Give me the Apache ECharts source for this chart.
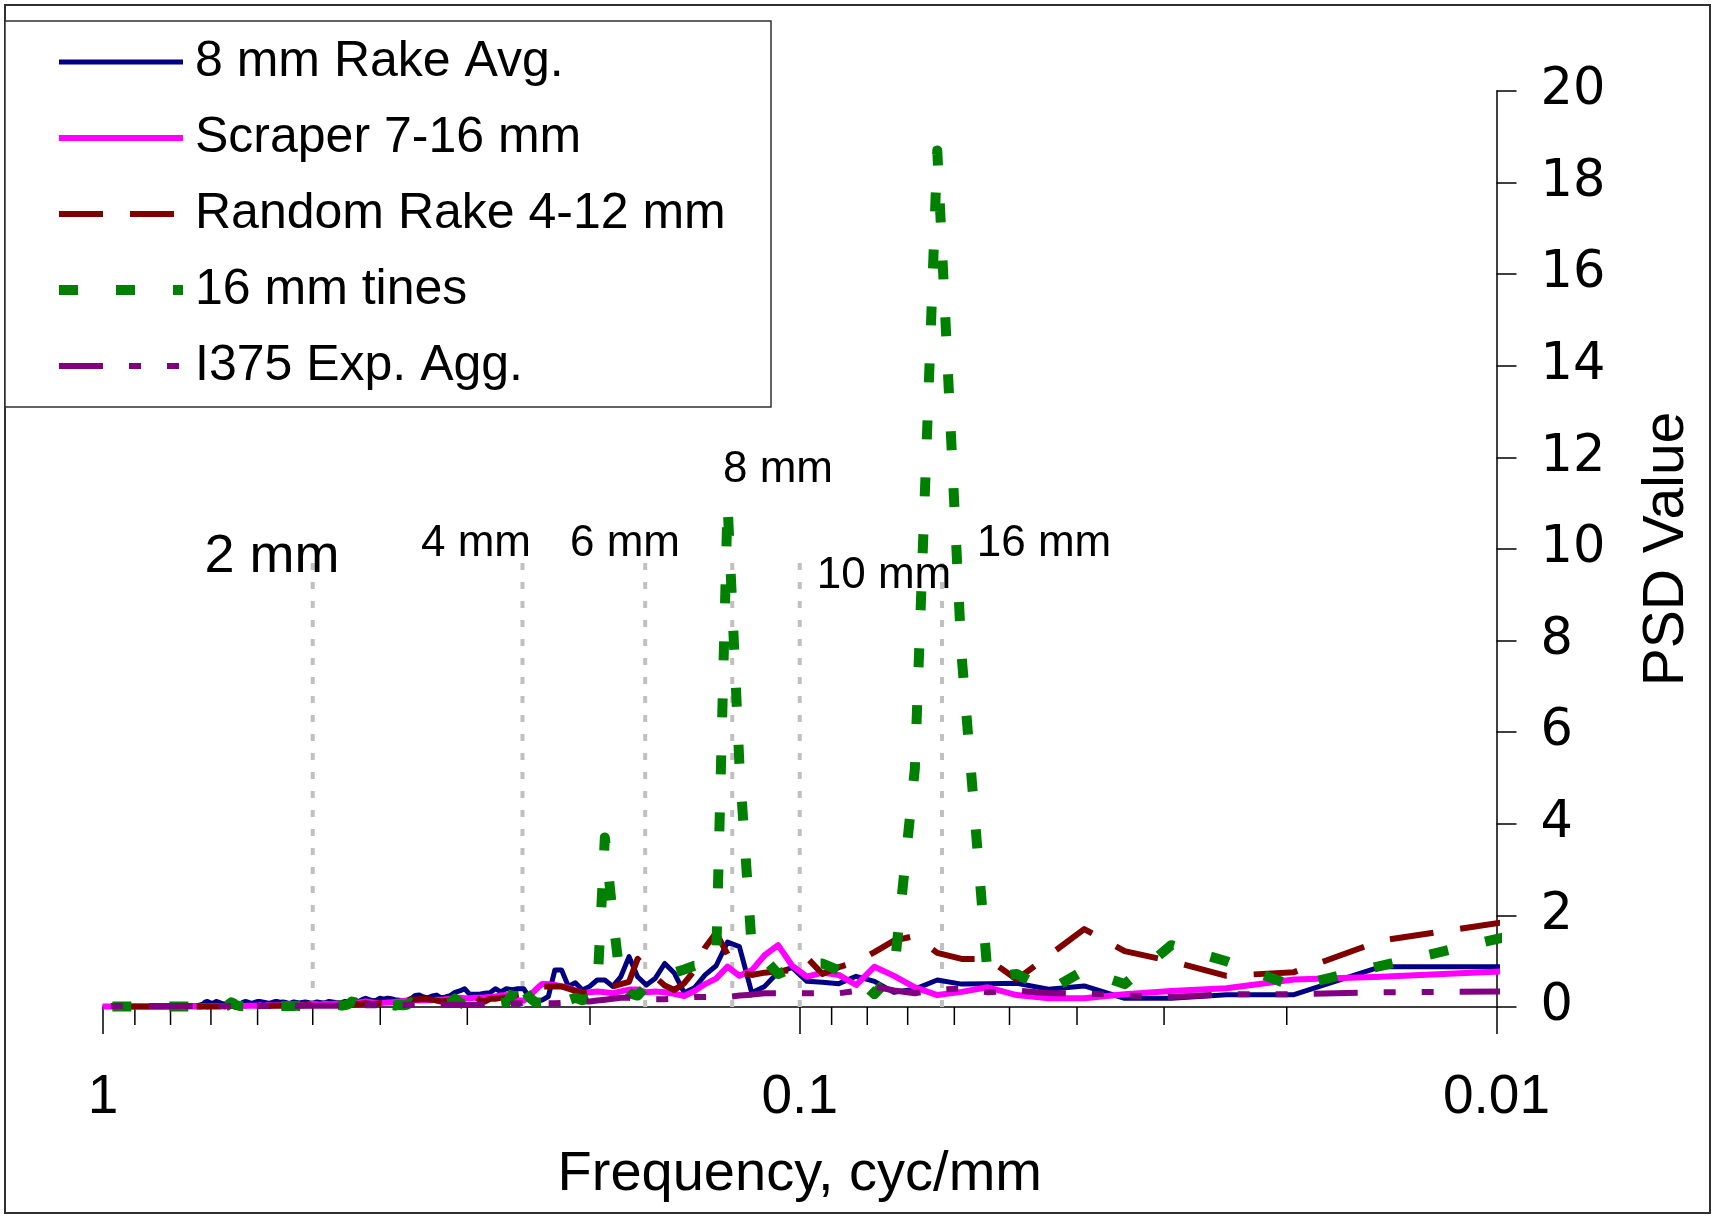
<!DOCTYPE html>
<html>
<head>
<meta charset="utf-8">
<title>PSD Value vs Frequency</title>
<script src="https://cdn.jsdelivr.net/npm/echarts@6/dist/echarts.min.js"></script>
<style>
  html, body { margin: 0; padding: 0; background: #ffffff; }
  #chart { width: 1714px; height: 1218px; }
</style>
</head>
<body>
<div id="chart"></div>
<script>
// Spectrum bins: frequency of bin k is k / profileLength (cycles per mm).
const profileLength = 204.8; // mm
const firstBin = 2;

const seriesNames = ['8 mm Rake Avg.', 'Scraper 7-16 mm', 'Random Rake 4-12 mm', '16 mm tines', 'I375 Exp. Agg.'];

// PSD values, one per bin, starting at bin 2
const rakeAvg8mm = [
  0.88,0.88,0.27,0.27,0.19,0.19,0.46,0.39,0.52,0.51,
  0.50,0.59,0.39,0.32,0.56,0.67,0.51,0.54,0.56,0.86,
  0.76,0.45,0.31,1.32,1.42,0.90,0.70,0.42,0.31,0.74,
  0.95,0.63,0.48,0.66,1.10,0.66,0.45,0.59,0.59,0.45,
  0.37,0.53,0.45,0.81,0.81,0.23,0.15,0.12,0.19,0.40,
  0.40,0.38,0.40,0.33,0.40,0.31,0.30,0.28,0.28,0.28,
  0.40,0.35,0.32,0.25,0.22,0.20,0.26,0.24,0.20,0.22,
  0.26,0.25,0.18,0.14,0.12,0.15,0.16,0.18,0.19,0.17,
  0.19,0.15,0.14,0.16,0.19,0.16,0.12,0.11,0.10,0.11,
  0.12,0.10,0.09,0.10,0.11,0.12,0.10,0.09,0.10,0.11,
  0.09,0.08,0.10,0.11,0.10,0.09,0.10,0.11,0.09,0.08,
  0.10,0.11,0.10,0.12,0.12,0.10,0.08,0.09,0.10,0.11,
  0.12,0.12,0.10,0.08,0.09,0.11,0.12,0.10,0.07,0.06,
  0.07,0.06,0.07,0.06,0.05,0.06,0.07,0.09,0.11,0.12,
  0.09,0.08,0.10,0.12,0.11,0.07,0.05,0.04,0.03,0.03,
  0.02,0.02,0.03,0.02,0.02,0.02,0.02,0.01,0.02,0.02,
  0.01,0.01,0.02,0.01,0.01,0.01,0.01,0.01,0.01,0.01,
  0.01,0.01,0.01,0.01,0.01,0.01,0.01,0.01,0.01,0.01,
  0.01,0.01,0.01,0.01,0.01,0.01,0.01,0.01,0.01,0.01,
  0.01,0.01,0.01,0.01,0.01,0.01,0.01,0.01,0.01,0.01,
  0.01,0.01,0.01,0.01
];

const scraper7to16 = [
  0.78,0.66,0.60,0.41,0.35,0.28,0.19,0.19,0.26,0.43,
  0.33,0.26,0.43,0.68,0.88,0.48,0.70,0.75,0.66,0.90,
  1.35,1.13,0.80,0.68,0.88,0.62,0.50,0.35,0.24,0.29,
  0.32,0.34,0.32,0.38,0.38,0.34,0.30,0.32,0.34,0.32,
  0.30,0.36,0.42,0.45,0.48,0.50,0.50,0.38,0.24,0.14,
  0.15,0.22,0.26,0.25,0.23,0.22,0.21,0.20,0.20,0.19,
  0.19,0.20,0.19,0.18,0.17,0.16,0.16,0.15,0.15,0.15,
  0.14,0.15,0.16,0.14,0.13,0.12,0.11,0.10,0.10,0.09,
  0.08,0.09,0.10,0.11,0.12,0.11,0.10,0.09,0.08,0.07,
  0.06,0.07,0.08,0.07,0.06,0.06,0.07,0.06,0.05,0.06,
  0.07,0.06,0.05,0.05,0.05,0.04,0.05,0.06,0.05,0.04,
  0.04,0.05,0.04,0.04,0.04,0.03,0.04,0.04,0.03,0.03,
  0.04,0.03,0.03,0.03,0.03,0.03,0.02,0.03,0.03,0.02,
  0.02,0.03,0.02,0.02,0.02,0.02,0.02,0.02,0.02,0.02,
  0.02,0.02,0.02,0.01,0.02,0.02,0.01,0.01,0.01,0.01,
  0.01,0.01,0.01,0.01,0.01,0.01,0.01,0.01,0.01,0.01,
  0.01,0.01,0.01,0.01,0.01,0.01,0.01,0.01,0.01,0.01,
  0.01,0.01,0.01,0.01,0.01,0.01,0.01,0.01,0.01,0.01,
  0.01,0.01,0.01,0.01,0.01,0.01,0.01,0.01,0.01,0.01,
  0.01,0.01,0.01,0.01,0.01,0.01,0.01,0.01,0.01,0.01,
  0.01,0.01,0.01,0.01
];

const randomRake4to12 = [
  1.85,1.45,0.76,0.68,1.00,1.22,1.70,1.12,0.60,1.05,
  1.05,1.18,1.55,1.45,1.20,0.98,0.87,0.72,1.08,0.80,
  0.78,0.75,0.70,0.76,1.15,1.62,1.30,0.80,0.52,0.37,
  0.47,0.65,0.85,1.05,0.55,0.50,0.45,0.40,0.33,0.32,
  0.30,0.35,0.40,0.45,0.45,0.45,0.45,0.40,0.33,0.30,
  0.28,0.22,0.20,0.20,0.18,0.18,0.12,0.15,0.25,0.25,
  0.22,0.18,0.15,0.14,0.13,0.12,0.14,0.16,0.17,0.18,
  0.17,0.16,0.17,0.14,0.12,0.10,0.09,0.08,0.08,0.07,
  0.08,0.07,0.06,0.07,0.08,0.07,0.06,0.06,0.05,0.06,
  0.07,0.06,0.05,0.05,0.05,0.04,0.05,0.05,0.04,0.04,
  0.05,0.04,0.04,0.04,0.03,0.04,0.04,0.03,0.03,0.04,
  0.03,0.03,0.03,0.03,0.03,0.03,0.02,0.03,0.02,0.02,
  0.02,0.02,0.02,0.02,0.02,0.02,0.02,0.02,0.02,0.02,
  0.02,0.02,0.02,0.02,0.02,0.01,0.02,0.01,0.01,0.01,
  0.01,0.01,0.01,0.01,0.01,0.01,0.01,0.01,0.01,0.01,
  0.01,0.01,0.01,0.01,0.01,0.01,0.01,0.01,0.01,0.01,
  0.01,0.01,0.01,0.01,0.01,0.01,0.01,0.01,0.01,0.01,
  0.01,0.01,0.01,0.01,0.01,0.01,0.01,0.01,0.01,0.01,
  0.01,0.01,0.01,0.01,0.01,0.01,0.01,0.01,0.01,0.01,
  0.01,0.01,0.01,0.01,0.01,0.01,0.01,0.01,0.01,0.01,
  0.01,0.01,0.01,0.01
];

const tines16mm = [
  1.52,0.90,0.45,1.00,1.35,0.50,0.80,0.35,0.72,0.65,
  7.70,18.70,5.20,0.75,0.28,0.66,0.80,0.95,0.95,0.85,
  0.72,1.05,1.30,5.30,11.00,1.00,0.92,0.90,0.82,0.75,
  0.65,0.58,0.45,0.25,0.30,0.50,2.00,3.70,0.35,0.20,
  0.15,0.20,0.15,0.35,0.22,0.12,0.10,0.10,0.20,0.40,
  0.72,0.25,0.10,0.08,0.05,0.06,0.04,0.05,0.08,0.06,
  0.05,0.10,0.18,0.10,0.05,0.04,0.03,0.05,0.06,0.05,
  0.04,0.06,0.10,0.05,0.04,0.05,0.03,0.04,0.05,0.03,
  0.04,0.05,0.04,0.03,0.04,0.05,0.06,0.10,0.12,0.06,
  0.04,0.03,0.04,0.03,0.03,0.02,0.03,0.03,0.02,0.02,
  0.03,0.02,0.02,0.02,0.02,0.02,0.03,0.02,0.02,0.02,
  0.02,0.02,0.02,0.02,0.02,0.02,0.02,0.02,0.02,0.02,
  0.02,0.02,0.02,0.02,0.02,0.02,0.02,0.02,0.02,0.03,
  0.04,0.08,0.10,0.06,0.03,0.02,0.02,0.02,0.01,0.01,
  0.01,0.01,0.01,0.01,0.01,0.01,0.01,0.01,0.01,0.01,
  0.01,0.01,0.01,0.01,0.01,0.01,0.01,0.01,0.01,0.01,
  0.01,0.01,0.01,0.01,0.01,0.01,0.01,0.01,0.01,0.01,
  0.01,0.01,0.01,0.01,0.01,0.01,0.01,0.01,0.01,0.01,
  0.01,0.01,0.01,0.01,0.01,0.01,0.01,0.01,0.01,0.01,
  0.01,0.01,0.01,0.01,0.01,0.01,0.01,0.01,0.01,0.01,
  0.01,0.01,0.01,0.01
];

const expAgg375 = [
  0.34,0.32,0.28,0.28,0.22,0.25,0.30,0.30,0.36,0.32,
  0.40,0.38,0.30,0.36,0.45,0.35,0.30,0.30,0.30,0.30,
  0.30,0.30,0.27,0.25,0.22,0.22,0.22,0.22,0.20,0.18,
  0.17,0.17,0.16,0.18,0.20,0.20,0.18,0.16,0.14,0.12,
  0.12,0.10,0.10,0.09,0.08,0.08,0.07,0.07,0.07,0.08,
  0.08,0.07,0.06,0.06,0.06,0.06,0.06,0.05,0.05,0.05,
  0.05,0.05,0.05,0.05,0.05,0.05,0.05,0.05,0.05,0.05,
  0.05,0.05,0.05,0.05,0.04,0.04,0.05,0.05,0.05,0.04,
  0.04,0.04,0.04,0.04,0.04,0.04,0.04,0.03,0.03,0.03,
  0.03,0.03,0.03,0.03,0.03,0.03,0.03,0.03,0.03,0.03,
  0.03,0.03,0.03,0.03,0.03,0.03,0.03,0.03,0.03,0.03,
  0.03,0.03,0.03,0.03,0.02,0.02,0.02,0.02,0.02,0.02,
  0.02,0.02,0.02,0.02,0.02,0.02,0.02,0.02,0.02,0.02,
  0.02,0.02,0.02,0.02,0.02,0.02,0.02,0.02,0.02,0.02,
  0.02,0.02,0.02,0.02,0.02,0.02,0.02,0.02,0.02,0.02,
  0.02,0.02,0.02,0.02,0.02,0.02,0.02,0.02,0.02,0.02,
  0.02,0.02,0.02,0.02,0.02,0.02,0.02,0.02,0.02,0.02,
  0.02,0.02,0.02,0.02,0.02,0.02,0.02,0.02,0.02,0.02,
  0.02,0.02,0.02,0.02,0.02,0.02,0.02,0.02,0.02,0.02,
  0.02,0.02,0.02,0.02,0.02,0.02,0.02,0.02,0.02,0.02,
  0.02,0.02,0.02,0.02
];

// Axis ticks
const yMin = 0, yMax = 20, yStep = 2;
const xMin = 0.01, xMax = 1;
const xMinorTicks = [0.9, 0.8, 0.7, 0.6, 0.5, 0.4, 0.3, 0.2,
                     0.09, 0.08, 0.07, 0.06, 0.05, 0.04, 0.03, 0.02];

// Wavelength guides (mm) and their labels
const guideWavelengths = [2, 4, 6, 8, 10, 16];
const guideLabels = ['2 mm', '4 mm', '6 mm', '8 mm', '10 mm', '16 mm'];
const guideTop = 9.75;

const toPoints = values => values.map((v, i) => [(firstBin + i) / profileLength, v]);

const FONT = "'Liberation Sans', Arial, Helvetica, sans-serif";

const lineDefs = [
  { values: rakeAvg8mm,      color: '#000080', width: 5,  type: 'solid' },
  { values: scraper7to16,    color: '#FF00FF', width: 6,  type: 'solid' },
  { values: randomRake4to12, color: '#800000', width: 6,  type: [44, 27] },
  { values: tines16mm,       color: '#008000', width: 10, type: [19, 38] },
  { values: expAgg375,       color: '#800080', width: 6,  type: [44, 26, 12, 26, 12, 26] }
];

const chart = echarts.init(document.getElementById('chart'), null, { renderer: 'canvas' });

const dataSeries = lineDefs.map((d, i) => ({
  name: seriesNames[i],
  type: 'line',
  data: toPoints(d.values),
  symbol: 'none',
  showSymbol: false,
  clip: true,
  silent: true,
  animation: false,
  z: 3 + i,
  itemStyle: { color: d.color },
  lineStyle: { color: d.color, width: d.width, type: d.type, cap: 'butt', join: 'round' },
  emphasis: { disabled: true }
}));

// Vertical dotted guides at the frequency of each wavelength
const guideSeries = {
  type: 'custom',
  silent: true,
  animation: false,
  z: 2,
  data: guideWavelengths.map(w => [1 / w, guideTop]),
  renderItem: (params, api) => {
    const bottom = api.coord([api.value(0), 0]);
    const top = api.coord([api.value(0), api.value(1)]);
    return {
      type: 'line',
      shape: { x1: bottom[0], y1: bottom[1], x2: top[0], y2: top[1] },
      style: { stroke: '#C0C0C0', lineWidth: 4, lineDash: [7, 12] }
    };
  }
};

// Minor ticks of the logarithmic frequency axis
const minorTickSeries = {
  type: 'custom',
  silent: true,
  animation: false,
  z: 1,
  data: xMinorTicks.map(v => [v, 0]),
  renderItem: (params, api) => {
    const p = api.coord([api.value(0), 0]);
    return {
      type: 'line',
      shape: { x1: p[0], y1: p[1], x2: p[0], y2: p[1] + 18 },
      style: { stroke: '#000000', lineWidth: 1.5 }
    };
  }
};

const guideTextLayout = [
  { x: 272,  y: 557, size: 54 },
  { x: 476,  y: 544, size: 44 },
  { x: 625,  y: 544, size: 44 },
  { x: 778,  y: 470, size: 44 },
  { x: 884,  y: 576, size: 44 },
  { x: 1044, y: 544, size: 44 }
];

const option = {
  backgroundColor: '#ffffff',
  animation: false,
  textStyle: { fontFamily: FONT },
  grid: { left: 103, right: 217.5, top: 91, bottom: 211, containLabel: false, outerBoundsMode: 'none' },
  legend: {
    data: seriesNames,
    orient: 'vertical',
    left: 54,
    top: 37,
    padding: 0,
    itemWidth: 124,
    itemHeight: 2,
    itemGap: 26,
    selectedMode: false,
    itemStyle: { opacity: 0, borderWidth: 0 },
    lineStyle: { width: 'inherit', type: 'inherit' },
    textStyle: { fontSize: 50, fontFamily: FONT, color: '#000000', padding: [0, 0, 0, 7] }
  },
  xAxis: {
    type: 'log',
    logBase: 10,
    min: xMin,
    max: xMax,
    inverse: true,
    axisLine: { show: true, onZero: false, lineStyle: { color: '#404040', width: 2 } },
    axisTick: { show: true, length: 27, lineStyle: { color: '#000000', width: 1.5 } },
    minorTick: { show: false },
    splitLine: { show: false },
    minorSplitLine: { show: false },
    axisLabel: {
      fontSize: 55, fontFamily: FONT, color: '#000000', margin: 63,
      formatter: v => String(Number(v.toPrecision(6)))
    },
    name: 'Frequency, cyc/mm',
    nameLocation: 'middle',
    nameGap: 140,
    nameTextStyle: { fontSize: 56, fontFamily: FONT, color: '#000000' }
  },
  yAxis: {
    type: 'value',
    position: 'right',
    min: yMin,
    max: yMax,
    interval: yStep,
    axisLine: { show: true, onZero: false, lineStyle: { color: '#000000', width: 1.5 } },
    axisTick: { show: true, inside: false, length: 20, lineStyle: { color: '#000000', width: 1.5 } },
    splitLine: { show: false },
    axisLabel: { fontSize: 51, fontFamily: "'DejaVu Sans', sans-serif", color: '#000000', margin: 44 },
    name: 'PSD Value',
    nameLocation: 'middle',
    nameRotate: 90,
    nameGap: 142,
    nameTextStyle: { fontSize: 57, fontFamily: FONT, color: '#000000' }
  },
  graphic: [
    { type: 'rect', silent: true, z: -10,
      shape: { x: 5, y: 5, width: 1705, height: 1208 },
      style: { fill: 'none', stroke: '#303030', lineWidth: 2 } },
    { type: 'rect', silent: true, z: -9,
      shape: { x: 5, y: 21, width: 766, height: 386 },
      style: { fill: '#ffffff', stroke: '#303030', lineWidth: 1.5 } }
  ].concat(guideLabels.map((t, i) => ({
    type: 'text', silent: true, z: 10,
    x: guideTextLayout[i].x, y: guideTextLayout[i].y,
    style: {
      text: t, fill: '#000000', fontSize: guideTextLayout[i].size, fontFamily: FONT,
      align: 'center', verticalAlign: 'middle'
    }
  }))),
  series: [minorTickSeries, guideSeries].concat(dataSeries)
};

chart.setOption(option);
</script>
</body>
</html>
